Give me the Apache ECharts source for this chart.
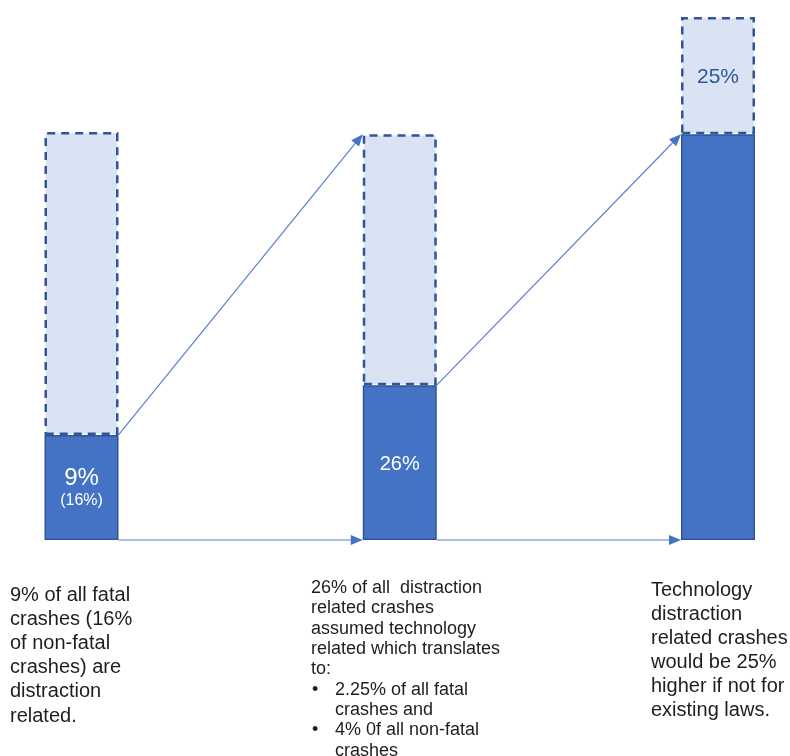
<!DOCTYPE html>
<html>
<head>
<meta charset="utf-8">
<script src="https://cdn.jsdelivr.net/npm/echarts@6/dist/echarts.min.js"></script>
<style>
  html, body { margin: 0; padding: 0; background: #fff; }
  #ech { width: 790px; height: 756px; }
</style>
</head>
<body>
<div id="ech"></div>
<script>
// stage names (not shown)
var stages = ['distraction', 'technology', 'laws'];
// solid (known) part of each bar, chart units
var solidVals = [25.1, 37.0, 97.0];
// dashed (remaining / potential) part on top of it
var extraVals = [72.4, 60.0, 28.0];
// labels printed in the bars
var solidLabels = ['{a|9%}\n{b|(16%)}', '{c|26%}', ''];
var extraLabels = ['', '', '25%'];
// captions under the bars
var caption1 = ['9% of all fatal', 'crashes (16%', 'of non-fatal', 'crashes) are', 'distraction', 'related.'];
var caption2 = ['26% of all  distraction', 'related crashes', 'assumed technology', 'related which translates', 'to:'];
var bullets2 = [['2.25% of all fatal', 'crashes and'], ['4% 0f all non-fatal', 'crashes']];
var caption3 = ['Technology', 'distraction', 'related crashes', 'would be 25%', 'higher if not for', 'existing laws.'];

var FONT = '"Liberation Sans", Arial, sans-serif';
var barW = 74;

let ownChart = echarts.init(document.getElementById('ech'));
var option = {
    animation: false,
    grid: { left: 81.5, right: 72, top: 17, bottom: 216 },
    xAxis: { type: 'category', data: stages, boundaryGap: false, show: false },
    yAxis: { type: 'value', min: 0, max: 125, show: false },
    series: [{
        type: 'bar',
        stack: 'b',
        barWidth: barW,
        itemStyle: { color: '#4472c4', borderColor: '#2f5597', borderWidth: 1.5 },
        data: solidVals.map(function (v, i) {
            var dist = [30, 67, 0][i];
            return {
                value: v,
                label: {
                    show: solidLabels[i] !== '',
                    position: 'insideTop',
                    distance: dist,
                    formatter: solidLabels[i],
                    rich: {
                        a: { fontSize: 24, lineHeight: 26, color: '#fff', fontFamily: FONT },
                        b: { fontSize: 16, lineHeight: 20, color: '#fff', fontFamily: FONT },
                        c: { fontSize: 20, lineHeight: 24, color: '#fff', fontFamily: FONT }
                    }
                }
            };
        })
    }, {
        type: 'bar',
        stack: 'b',
        barWidth: barW,
        itemStyle: { color: '#dae3f3', borderColor: '#2f5597', borderWidth: 2.5, borderType: [8, 6] },
        data: extraVals.map(function (v, i) {
            return {
                value: v,
                label: {
                    show: extraLabels[i] !== '',
                    position: 'insideTop',
                    distance: 47,
                    formatter: extraLabels[i],
                    fontSize: 21, lineHeight: 26, color: '#2f5597', fontFamily: FONT
                }
            };
        })
    }]
};
ownChart.setOption(option);

// arrows between the bars, placed through the axes
function px(i, v) { return ownChart.convertToPixel({ xAxisIndex: 0, yAxisIndex: 0 }, [i, v]); }
function arrow(p, q) {
    var dx = q[0] - p[0], dy = q[1] - p[1];
    var len = Math.sqrt(dx * dx + dy * dy), ux = dx / len, uy = dy / len;
    var hl = 12, hw = 5;
    var bx = q[0] - ux * hl, by = q[1] - uy * hl;
    return [{
        type: 'line', silent: true,
        shape: { x1: p[0], y1: p[1], x2: bx, y2: by },
        style: { stroke: '#5a80cc', lineWidth: 1.2 }
    }, {
        type: 'polygon', silent: true,
        shape: { points: [q, [bx - uy * hw, by + ux * hw], [bx + uy * hw, by - ux * hw]] },
        style: { fill: '#4472c4' }
    }];
}
var hb = barW / 2;
var g = [];
var a = px(0, solidVals[0]), b = px(1, solidVals[1] + extraVals[1]);
g = g.concat(arrow([a[0] + hb, a[1]], [b[0] - hb, b[1]]));
a = px(1, solidVals[1]); b = px(2, solidVals[2]);
g = g.concat(arrow([a[0] + hb, a[1]], [b[0] - hb, b[1]]));
a = px(0, 0); b = px(1, 0);
g = g.concat(arrow([a[0] + hb, a[1]], [b[0] - hb, b[1]]));
a = px(1, 0); b = px(2, 0);
g = g.concat(arrow([a[0] + hb, a[1]], [b[0] - hb, b[1]]));

function txt(lines, x, y, size, lh) {
    return {
        type: 'text', silent: true,
        style: { text: lines.join('\n'), x: x, y: y, fill: '#1e1e1e', font: size + 'px ' + FONT, lineHeight: lh }
    };
}
g.push(txt(caption1, 10, 583, 20, 24.2));
g.push(txt(caption3, 651, 578, 20, 24));
var lh2 = 20.3, top2 = 578;
g.push(txt(caption2, 311, top2, 18, lh2));
var row = caption2.length;
bullets2.forEach(function (b) {
    g.push(txt(['•'], 312, top2 + row * lh2, 18, lh2));
    g.push(txt(b, 335, top2 + row * lh2, 18, lh2));
    row += b.length;
});
ownChart.setOption({ graphic: g });
</script>
</body>
</html>
